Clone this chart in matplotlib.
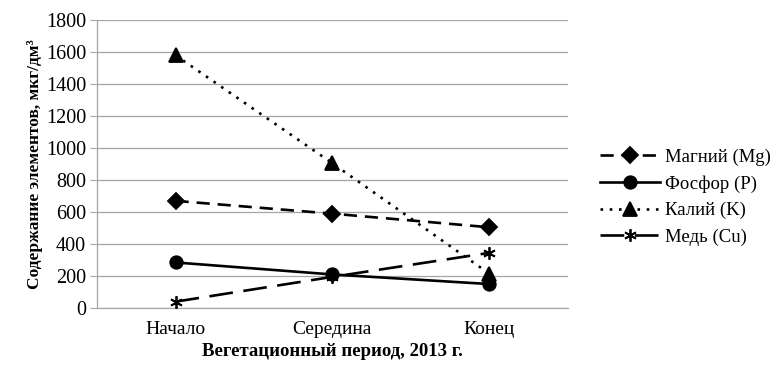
import matplotlib
matplotlib.use("Agg")
import matplotlib.pyplot as plt
from matplotlib.lines import Line2D

plt.rcParams['font.family'] = ['Liberation Serif', 'DejaVu Serif']

# Вегетационный период и содержание элементов, мкг/дм3
periods = ["Начало", "Середина", "Конец"]
magnesium = [670, 590, 505]
phosphorus = [285, 210, 150]
potassium = [1580, 905, 215]
copper = [40, 195, 345]
y_ticks = [0, 200, 400, 600, 800, 1000, 1200, 1400, 1600, 1800]

series = [
    ("Магний (Mg)", magnesium, "D", 8, (0, (5, 3))),
    ("Фосфор (P)", phosphorus, "o", 9, "-"),
    ("Калий (K)", potassium, "^", 10, (0, (1, 2.5))),
    ("Медь (Cu)", copper, (6, 2, 0), 9, (0, (9, 4))),
]

fig = plt.figure(figsize=(7.83, 3.65), dpi=100)
ax = fig.add_axes([0.124, 0.156, 0.601, 0.789])

x = [0.5, 1.5, 2.5]
handles = []
for label, vals, marker, ms, ls in series:
    ax.plot(x, vals, color="black", linestyle=ls, linewidth=1.9,
            marker=marker, markersize=ms, markeredgewidth=1.3,
            markerfacecolor="black", markeredgecolor="black", zorder=3)
    handles.append(Line2D([], [], color="black", linestyle=ls, linewidth=1.9,
                          marker=marker, markersize=ms, markeredgewidth=1.3,
                          markerfacecolor="black", markeredgecolor="black"))

ax.set_xlim(0, 3)
ax.set_ylim(0, 1800)
ax.set_yticks(y_ticks)
ax.set_xticks(x)
ax.set_xticklabels(periods)
ax.yaxis.grid(True, color="#a6a6a6", linewidth=0.9)
ax.set_axisbelow(True)
for side in ("top", "right"):
    ax.spines[side].set_visible(False)
for side in ("left", "bottom"):
    ax.spines[side].set_color("#a6a6a6")
    ax.spines[side].set_linewidth(0.9)
ax.tick_params(axis="y", length=5, color="#a6a6a6", labelsize=14.5, pad=3)
ax.tick_params(axis="x", length=0, labelsize=14, pad=9)

ax.set_xlabel("Вегетационный период, 2013 г.", fontsize=13.5,
              fontweight="bold", labelpad=4)
ax.set_ylabel("Содержание элементов, мкг/дм³", fontsize=12.5,
              fontweight="bold", labelpad=2)

fig.legend(handles, [s[0] for s in series], loc="upper left",
           bbox_to_anchor=(0.745, 0.64), frameon=False, fontsize=13.5,
           handlelength=3.2, handletextpad=0.25, labelspacing=0.5)

fig.savefig("out.png", dpi=100)
